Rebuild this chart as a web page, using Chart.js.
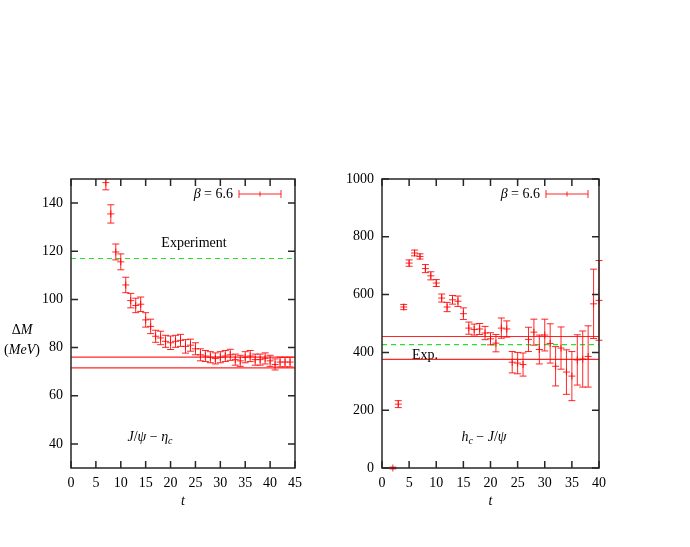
<!DOCTYPE html>
<html>
<head>
<meta charset="utf-8">
<script src="https://cdn.jsdelivr.net/npm/chart.js@4/dist/chart.umd.min.js"></script>
<style>
  html, body { margin: 0; padding: 0; background: #fff; }
  #wrap { position: relative; width: 690px; height: 547px; }
  .box { position: absolute; top: 0; height: 547px; }
</style>
</head>
<body>
<div id="wrap">
  <div class="box" style="left:0;width:330px"><canvas id="left"></canvas></div>
  <div class="box" style="left:330px;width:360px"><canvas id="right"></canvas></div>
</div>
<script>
// J/psi - eta_c splitting
const leftT = [7,8,9,10,11,12,13,14,15,16,17,18,19,20,21,22,23,24,25,26,27,28,29,30,31,32,33,34,35,36,37,38,39,40,41,42,43,44];
const leftM = [148.5,135.5,119.7,115.6,106,99.5,97.5,98,91.5,88.8,84.7,84,82.6,82,82.6,83,80.5,81,79.5,77,76.5,76,75.5,76,76.5,77,75,74.5,76,76.5,75,75,75.5,74.5,73,74,74,74];
const leftErr = [3,3.8,3.3,3.3,3.2,3,3,3,3,3,2.5,2.8,2.5,2.8,2.5,2.5,2.8,2.5,2.5,2.5,2.3,2.3,2.3,2.3,2.3,2.3,2.3,2.3,2.3,2.3,2.3,2.3,2.3,2.3,2.3,2,2,2];
const leftBand = [76, 71.6];
const leftExp = 117;
const leftXTicks = [0,5,10,15,20,25,30,35,40,45];
const leftYTicks = [40,60,80,100,120,140];

// h_c - J/psi splitting
const rightT = [2,3,4,5,6,7,8,9,10,11,12,13,14,15,16,17,18,19,20,21,22,23,24,25,26,27,28,29,30,31,32,33,34,35,36,37,38,39,40];
const rightM = [0,221,557,709,744,732,690,665,640,588,557,582,577,534,484,479,481,467,447,432,484,481,366,363,358,445,470,410,460,431,352,415,332,318,374,377,386,568,580];
const rightErr = [3,12,9,11,10,9,14,14,12,14,16,15,18,20,21,19,19,23,21,30,35,28,37,37,40,42,45,50,55,68,68,73,77,85,87,97,106,120,138];
const rightBand = [455, 376];
const rightExp = 427;
const rightXTicks = [0,5,10,15,20,25,30,35,40];
const rightYTicks = [0,200,400,600,800,1000];

const RED = 'rgba(255,0,0,0.85)';
const GREEN = 'rgb(40,225,40)';
const FRAME = '#262626';
const FONT = '"Liberation Serif", "DejaVu Serif", serif';

function drawParts(ctx, parts, x, y, align) {
  const fontOf = s => (s === 'r' ? '' : 'italic ') + (s === 's' ? 10 : 14) + 'px ' + FONT;
  let w = 0;
  parts.forEach(([t, s]) => { ctx.font = fontOf(s); w += ctx.measureText(t).width; });
  let cx = align === 'right' ? x - w : (align === 'left' ? x : x - w / 2);
  ctx.textAlign = 'left';
  ctx.textBaseline = 'middle';
  ctx.fillStyle = '#000';
  parts.forEach(([t, s]) => {
    ctx.font = fontOf(s);
    ctx.fillText(t, cx, s === 's' ? y + 4 : y);
    cx += ctx.measureText(t).width;
  });
}

// error bars, frame, inward ticks and the labels
function decorPlugin(notes, legendPos) {
  return {
    id: 'decor',
    afterDatasetsDraw(chart) {
      const {ctx, chartArea: a, scales: {x, y}} = chart;
      ctx.save();
      ctx.beginPath();
      ctx.rect(a.left - 4, a.top, a.right - a.left + 8, a.bottom - a.top + 4);
      ctx.clip();
      ctx.strokeStyle = RED;
      ctx.lineWidth = 1;
      chart.data.datasets.forEach(ds => {
        if (!ds.errors) return;
        ds.data.forEach((p, i) => {
          const px = x.getPixelForValue(p.x);
          const hi = y.getPixelForValue(p.y + ds.errors[i]);
          const lo = y.getPixelForValue(p.y - ds.errors[i]);
          ctx.beginPath();
          ctx.moveTo(px, hi); ctx.lineTo(px, lo);
          ctx.moveTo(px - 3.5, hi); ctx.lineTo(px + 3.5, hi);
          ctx.moveTo(px - 3.5, lo); ctx.lineTo(px + 3.5, lo);
          ctx.stroke();
        });
      });
      ctx.restore();

      ctx.save();
      ctx.strokeStyle = FRAME;
      ctx.lineWidth = 1.5;
      ctx.strokeRect(a.left, a.top, a.right - a.left, a.bottom - a.top);
      ctx.beginPath();
      x.ticks.forEach(t => {
        const px = x.getPixelForValue(t.value);
        ctx.moveTo(px, a.bottom); ctx.lineTo(px, a.bottom - 7);
        ctx.moveTo(px, a.top); ctx.lineTo(px, a.top + 7);
      });
      y.ticks.forEach(t => {
        const py = y.getPixelForValue(t.value);
        ctx.moveTo(a.left, py); ctx.lineTo(a.left + 7, py);
        ctx.moveTo(a.right, py); ctx.lineTo(a.right - 7, py);
      });
      ctx.stroke();

      // key: beta = 6.6 with an error bar sample
      const [lx, ly, lw] = legendPos;
      drawParts(ctx, [['β', 'i'], [' = 6.6', 'r']], lx, ly, 'right');
      ctx.strokeStyle = RED;
      ctx.lineWidth = 1;
      ctx.beginPath();
      ctx.moveTo(lx + 6, ly); ctx.lineTo(lx + 6 + lw, ly);
      ctx.moveTo(lx + 6, ly - 4); ctx.lineTo(lx + 6, ly + 4);
      ctx.moveTo(lx + 6 + lw, ly - 4); ctx.lineTo(lx + 6 + lw, ly + 4);
      ctx.moveTo(lx + 6 + lw / 2, ly - 2.5); ctx.lineTo(lx + 6 + lw / 2, ly + 2.5);
      ctx.stroke();

      notes.forEach(n => drawParts(ctx, n.parts, n.x, n.y, 'center'));
      ctx.restore();
    }
  };
}

function hline(v, xmin, xmax, color, dash) {
  return {
    type: 'line',
    data: [{x: xmin, y: v}, {x: xmax, y: v}],
    borderColor: color,
    borderWidth: 1.2,
    borderDash: dash || [],
    pointRadius: 0,
    order: 2
  };
}

function makeChart(id, cfg) {
  const points = cfg.t.map((t, i) => ({x: t, y: cfg.m[i]}));
  new Chart(document.getElementById(id), {
    type: 'scatter',
    data: {
      datasets: [
        hline(cfg.band[0], cfg.xmin, cfg.xmax, RED),
        hline(cfg.band[1], cfg.xmin, cfg.xmax, RED),
        hline(cfg.exp, cfg.xmin, cfg.xmax, GREEN, [5, 4]),
        {
          type: 'scatter',
          data: points,
          errors: cfg.err,
          pointStyle: 'cross',
          pointRadius: 3.5,
          borderColor: RED,
          borderWidth: 1,
          clip: false,
          order: 1
        }
      ]
    },
    options: {
      responsive: true,
      maintainAspectRatio: false,
      animation: false,
      events: [],
      layout: { padding: { top: 179, right: cfg.padRight, left: 0, bottom: 0 } },
      plugins: { legend: { display: false }, tooltip: { enabled: false } },
      scales: {
        x: {
          type: 'linear',
          min: cfg.xmin,
          max: cfg.xmax,
          grid: { display: false, drawTicks: false },
          border: { display: false },
          afterBuildTicks: s => { s.ticks = cfg.xTicks.map(v => ({value: v})); },
          afterFit: s => { s.height = 79; },
          ticks: { color: '#000', padding: 7, font: { family: FONT, size: 14 }, maxRotation: 0,
                   callback: v => String(v) },
          title: { display: true, text: 't', color: '#000', padding: { top: 0, bottom: 37 },
                   font: { family: FONT, size: 14, style: 'italic' } }
        },
        y: {
          type: 'linear',
          min: cfg.ymin,
          max: cfg.ymax,
          grid: { display: false, drawTicks: false },
          border: { display: false },
          afterBuildTicks: s => { s.ticks = cfg.yTicks.map(v => ({value: v})); },
          afterFit: s => { s.width = cfg.yWidth; },
          ticks: { color: '#000', padding: 8, font: { family: FONT, size: 14 },
                   callback: v => String(v) }
        }
      }
    },
    plugins: [decorPlugin(cfg.notes, cfg.legendPos)]
  });
}

makeChart('left', {
  t: leftT, m: leftM, err: leftErr, band: leftBand, exp: leftExp,
  xmin: 0, xmax: 45, ymin: 30, ymax: 150,
  xTicks: leftXTicks, yTicks: leftYTicks,
  yWidth: 71, padRight: 35,
  legendPos: [233, 194, 42],
  notes: [
    { parts: [['Experiment', 'r']], x: 194, y: 243 },
    { parts: [['J', 'i'], ['/', 'r'], ['ψ', 'i'], [' − ', 'r'], ['η', 'i'], ['c', 's']], x: 150, y: 437 },
    { parts: [['Δ', 'r'], ['M', 'i']], x: 22, y: 330 },
    { parts: [['(', 'r'], ['MeV', 'i'], [')', 'r']], x: 22, y: 350 }
  ]
});

makeChart('right', {
  t: rightT, m: rightM, err: rightErr, band: rightBand, exp: rightExp,
  xmin: 0, xmax: 40, ymin: 0, ymax: 1000,
  xTicks: rightXTicks, yTicks: rightYTicks,
  yWidth: 52, padRight: 91,
  legendPos: [210, 194, 42],
  notes: [
    { parts: [['Exp.', 'r']], x: 95, y: 355 },
    { parts: [['h', 'i'], ['c', 's'], [' − ', 'r'], ['J', 'i'], ['/', 'r'], ['ψ', 'i']], x: 154, y: 437 }
  ]
});
</script>
</body>
</html>
